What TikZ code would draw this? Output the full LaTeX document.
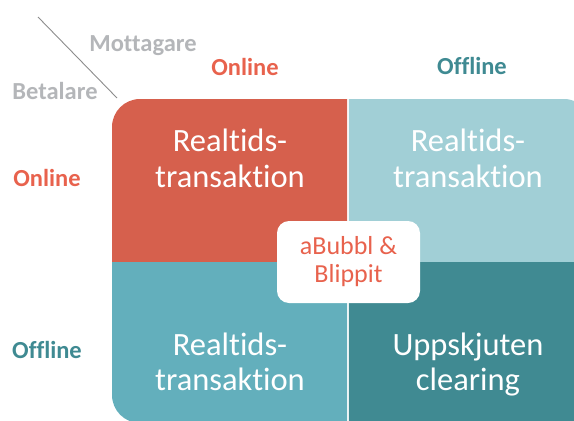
\documentclass[tikz,border=0pt]{standalone}
\usepackage{fontspec}
\setmainfont[RawFeature=-liga]{Carlito}
\definecolor{qtl}{HTML}{D6604D}
\definecolor{qtr}{HTML}{A1CFD6}
\definecolor{qbl}{HTML}{63AFBC}
\definecolor{qbr}{HTML}{408A92}
\definecolor{onc}{HTML}{E8624D}
\definecolor{offc}{HTML}{3F8A92}
\definecolor{greyc}{HTML}{B4B6B9}
\definecolor{linec}{HTML}{8C8C8C}
\begin{document}
\begin{tikzpicture}[x=1pt,y=-1pt,
  qtext/.style={text=white,anchor=base,inner sep=0pt,font=\fontsize{32.5}{36}\selectfont},
  axlab/.style={font=\fontsize{24.5}{28}\selectfont\bfseries,inner sep=0pt},
  hdr/.style={font=\fontsize{24.5}{28}\selectfont\bfseries,text=greyc,inner sep=0pt},
  centerbox/.style={fill=white,rounded corners=12pt,minimum width=143pt,minimum height=82pt,inner sep=0pt,align=center,text=onc,font=\fontsize{26}{28}\selectfont}]
\useasboundingbox (0,0) rectangle (574,421);
\def\blk{(112,99) rectangle (592,423)}
\begin{scope}\clip (100,90) rectangle (347,261.2);
  \fill[qtl,rounded corners=28pt] \blk;\end{scope}
\begin{scope}\clip (348.8,90) rectangle (600,261.2);
  \fill[qtr,rounded corners=28pt] \blk;\end{scope}
\begin{scope}\clip (100,262.8) rectangle (347,430);
  \fill[qbl,rounded corners=28pt] \blk;\end{scope}
\begin{scope}\clip (348.8,262.8) rectangle (600,430);
  \fill[qbr,rounded corners=28pt] \blk;\end{scope}
% quadrant texts
\node[qtext] (tl1) at (230,151) {Realtids-};
\node[qtext] (tl2) at (230,187) {transaktion};
\node[qtext] (tr1) at (468,151) {Realtids-};
\node[qtext] (tr2) at (468,187) {transaktion};
\node[qtext] (bl1) at (230,355) {Realtids-};
\node[qtext] (bl2) at (230,390) {transaktion};
\node[qtext] (br1) at (468,355) {Uppskjuten};
\node[qtext] (br2) at (468,390) {clearing};
% center box
\node[centerbox] (mid) at (348.5,262) {aBubbl \&\\Blippit};
% axis labels
\node[axlab,text=onc] (topon) at (245,67) {Online};
\node[axlab,text=offc] (topoff) at (472,66) {Offline};
\node[axlab,text=onc] (lefton) at (47,178) {Online};
\node[axlab,text=offc] (leftoff) at (47,350) {Offline};
\node[hdr] (mott) at (143,46) {Mottagare};
\node[hdr] (beta) at (55,91) {Betalare};
\coordinate (d1) at (38,17);
\coordinate (d2) at (117,98);
\draw[linec,line width=0.9pt] (d1) -- (d2);
\end{tikzpicture}
\end{document}
